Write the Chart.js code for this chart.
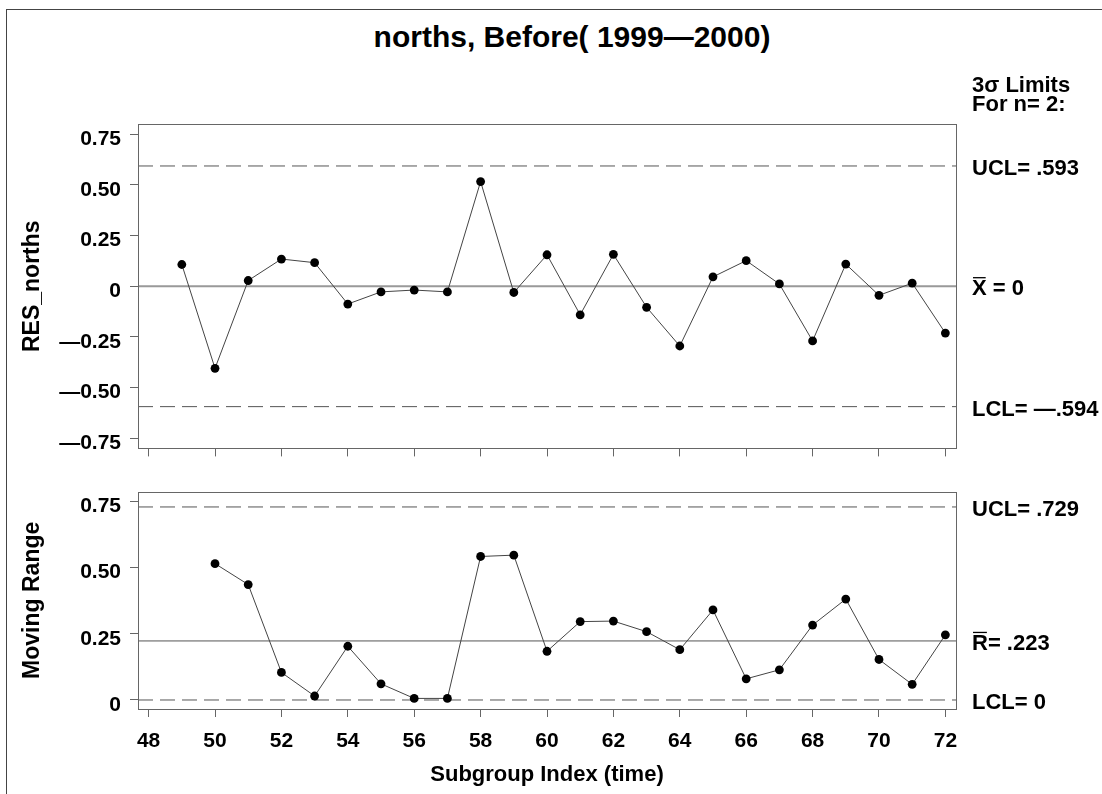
<!DOCTYPE html>
<html>
<head>
<meta charset="utf-8">
<script src="https://cdn.jsdelivr.net/npm/chart.js@4"></script>
<style>
  body { margin: 0; background: #fff; }
  #wrap { position: relative; width: 1102px; height: 794px; overflow: hidden; background: #fff; }
  #outer { position: absolute; left: 6px; top: 9px; width: 1300px; height: 1000px;
           border-left: 1px solid #444; border-top: 1px solid #444; }
  #title { position: absolute; left: 0; top: 20px; width: 1144px; text-align: center;
           font: bold 30px 'Liberation Sans', Arial, sans-serif; line-height: 34px; color: #000; }
  canvas { position: absolute; left: 0; }
</style>
</head>
<body>
<div id="wrap">
  <div id="outer"></div>
  <div id="title">norths, Before( 1999—2000)</div>
  <canvas id="resChart" width="1102" height="470" style="top:0"></canvas>
  <canvas id="mrChart" width="1102" height="324" style="top:470px"></canvas>
</div>
<script>
// data
const subgroups = [49, 50, 51, 52, 53, 54, 55, 56, 57, 58, 59, 60, 61, 62, 63, 64, 65, 66, 67, 68, 69, 70, 71, 72];
const resValues = [0.107, -0.405, 0.028, 0.134, 0.116, -0.088, -0.028, -0.019, -0.028, 0.516, -0.031, 0.155,
                   -0.141, 0.157, -0.104, -0.295, 0.046, 0.126, 0.011, -0.270, 0.109, -0.045, 0.015, -0.231];
const mrSubgroups = [50, 51, 52, 53, 54, 55, 56, 57, 58, 59, 60, 61, 62, 63, 64, 65, 66, 67, 68, 69, 70, 71, 72];
const mrValues = [0.515, 0.436, 0.104, 0.015, 0.203, 0.061, 0.006, 0.006, 0.542, 0.547, 0.184, 0.296,
                  0.298, 0.258, 0.190, 0.340, 0.080, 0.114, 0.283, 0.381, 0.153, 0.059, 0.246];

const xTicks = [48, 50, 52, 54, 56, 58, 60, 62, 64, 66, 68, 70, 72];
const resTicks = [-0.75, -0.5, -0.25, 0, 0.25, 0.5, 0.75];
const resTickLabels = ['—0.75', '—0.50', '—0.25', '0', '0.25', '0.50', '0.75'];
const mrTicks = [0, 0.25, 0.5, 0.75];
const mrTickLabels = ['0', '0.25', '0.50', '0.75'];

const resUCL = 0.593, resCL = 0, resLCL = -0.594;
const mrUCL = 0.729, mrCL = 0.223, mrLCL = 0;
const xMin = 47.68, xMax = 72.32;

const FAMILY = "'Liberation Sans', Arial, Helvetica, sans-serif";
const tickFont = { family: FAMILY, size: 21, weight: 'bold' };
const yTitleFont = { family: FAMILY, size: 23, weight: 'bold' };
const xTitleFont = { family: FAMILY, size: 22, weight: 'bold' };

// box round the plot area
const frame = {
  id: 'frame',
  afterDraw(chart) {
    const a = chart.chartArea, ctx = chart.ctx;
    ctx.save();
    ctx.strokeStyle = '#666';
    ctx.lineWidth = 1;
    ctx.strokeRect(Math.round(a.left) + 0.5, Math.round(a.top) + 0.5,
                   Math.round(a.right - a.left), Math.round(a.bottom - a.top));
    ctx.restore();
  }
};

// texts at the right of the limit lines
const limitLabels = {
  id: 'limitLabels',
  afterDraw(chart, args, opts) {
    const ctx = chart.ctx, y = chart.scales.y;
    const x0 = chart.chartArea.right + 16;
    ctx.save();
    ctx.font = 'bold 22px ' + FAMILY;
    ctx.fillStyle = '#000';
    ctx.strokeStyle = '#000';
    ctx.textAlign = 'left';
    ctx.textBaseline = 'middle';
    (opts.items || []).forEach(it => {
      const py = y.getPixelForValue(it.value) + 3;
      ctx.fillText(it.text, x0, py);
      if (it.bar) {
        const w = ctx.measureText(it.text[0]).width;
        ctx.beginPath();
        ctx.lineWidth = 1.3;
        ctx.moveTo(x0 + 1, py - 11.5);
        ctx.lineTo(x0 + w - 1, py - 11.5);
        ctx.stroke();
      }
    });
    (opts.notes || []).forEach(n => ctx.fillText(n.text, x0, n.y));
    ctx.restore();
  }
};

function limitLine(value, dashed, color, width) {
  return {
    data: [{ x: xMin, y: value }, { x: xMax, y: value }],
    showLine: true,
    borderColor: color,
    borderWidth: width,
    borderDash: dashed ? [15, 7] : [],
    pointRadius: 0
  };
}

function seriesLine(xs, ys) {
  return {
    data: xs.map((x, i) => ({ x: x, y: ys[i] })),
    showLine: true,
    borderColor: '#444',
    borderWidth: 1,
    pointRadius: 4.4,
    pointBackgroundColor: '#000',
    pointBorderWidth: 0
  };
}

function yScale(min, max, ticks, labels, title, titlePad) {
  return {
    min: min,
    max: max,
    afterBuildTicks: s => { s.ticks = ticks.map(v => ({ value: v })); },
    afterFit: s => { s.width = 138; },
    ticks: {
      callback: v => labels[ticks.indexOf(v)],
      font: tickFont, color: '#000', padding: 9, labelOffset: 5
    },
    grid: { drawOnChartArea: false, tickLength: 8, color: '#666' },
    border: { display: false },
    title: { display: true, text: title, font: yTitleFont, color: '#000', padding: { top: titlePad } }
  };
}

// === RES_norths panel ===
new Chart(document.getElementById('resChart'), {
  type: 'scatter',
  data: {
    datasets: [
      seriesLine(subgroups, resValues),
      limitLine(resUCL, true, '#555', 1),
      limitLine(resCL, false, '#999', 2),
      limitLine(resLCL, true, '#555', 1)
    ]
  },
  options: {
    responsive: false,
    animation: false,
    events: [],
    layout: { padding: { left: 0, top: 124, right: 146, bottom: 0 } },
    plugins: {
      legend: { display: false },
      tooltip: { enabled: false },
      limitLabels: {
        items: [
          { text: 'UCL= .593', value: resUCL },
          { text: 'X = 0', value: resCL, bar: true },
          { text: 'LCL= —.594', value: resLCL }
        ],
        notes: [
          { text: '3σ Limits', y: 86 },
          { text: 'For n= 2:', y: 105 }
        ]
      }
    },
    scales: {
      x: {
        type: 'linear',
        min: xMin,
        max: xMax,
        afterBuildTicks: s => { s.ticks = xTicks.map(v => ({ value: v })); },
        afterFit: s => { s.height = 19; },
        ticks: { display: false },
        grid: { drawOnChartArea: false, tickLength: 8, color: '#666' },
        border: { display: false }
      },
      y: yScale(-0.8, 0.8, resTicks, resTickLabels, 'RES_norths', 19)
    }
  },
  plugins: [frame, limitLabels]
});

// === Moving Range panel ===
new Chart(document.getElementById('mrChart'), {
  type: 'scatter',
  data: {
    datasets: [
      seriesLine(mrSubgroups, mrValues),
      limitLine(mrUCL, true, '#555', 1),
      limitLine(mrCL, false, '#555', 1),
      limitLine(mrLCL, true, '#555', 1)
    ]
  },
  options: {
    responsive: false,
    animation: false,
    events: [],
    layout: { padding: { left: 0, top: 16, right: 146, bottom: 0 } },
    plugins: {
      legend: { display: false },
      tooltip: { enabled: false },
      limitLabels: {
        items: [
          { text: 'UCL= .729', value: mrUCL },
          { text: 'R= .223', value: mrCL, bar: true },
          { text: 'LCL= 0', value: mrLCL }
        ]
      }
    },
    scales: {
      x: {
        type: 'linear',
        min: xMin,
        max: xMax,
        afterBuildTicks: s => { s.ticks = xTicks.map(v => ({ value: v })); },
        afterFit: s => { s.height = 85; },
        ticks: { font: tickFont, color: '#000', padding: 12, maxRotation: 0, autoSkip: false },
        grid: { drawOnChartArea: false, tickLength: 8, color: '#666' },
        border: { display: false },
        title: { display: true, text: 'Subgroup Index (time)', font: xTitleFont, color: '#000', padding: { bottom: 6 } }
      },
      y: yScale(-0.034, 0.787, mrTicks, mrTickLabels, 'Moving Range', 19)
    }
  },
  plugins: [frame, limitLabels]
});
</script>
</body>
</html>
